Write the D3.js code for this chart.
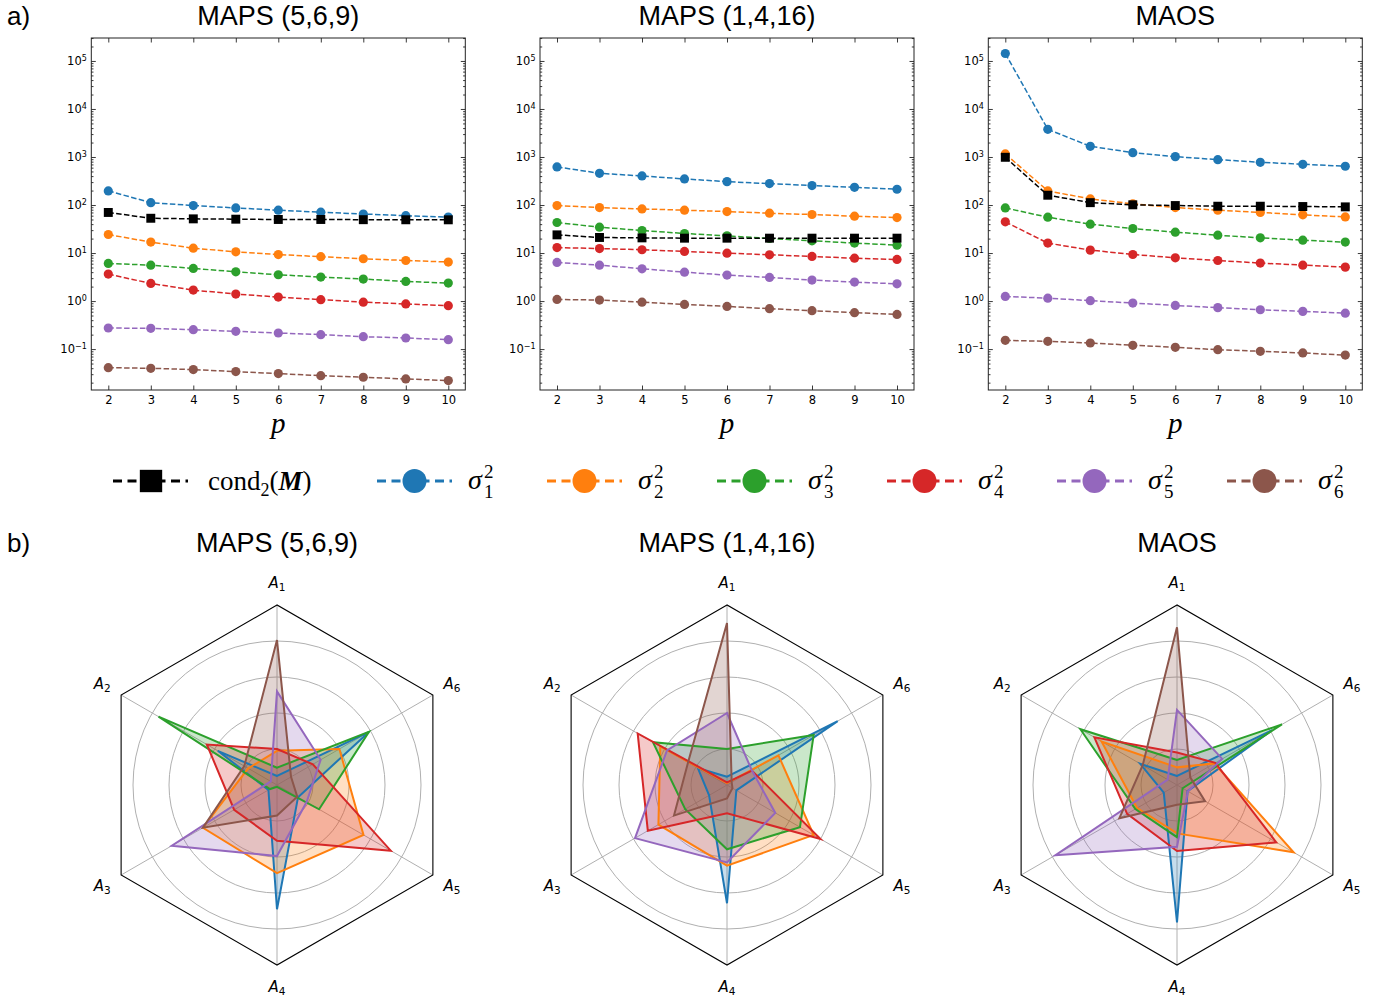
<!DOCTYPE html>
<html>
<head>
<meta charset="utf-8">
<script src="https://cdn.jsdelivr.net/npm/d3@7"></script>
<style>
  body { margin: 0; background: #fff; }
  svg text { font-family: "DejaVu Sans", sans-serif; fill: #000; }
</style>
</head>
<body>
<svg id="fig" width="1384" height="1001"></svg>
<script>
// ---- data -------------------------------------------------------------
const pValues = [2, 3, 4, 5, 6, 7, 8, 9, 10];
const panelTitles = ["MAPS (5,6,9)", "MAPS (1,4,16)", "MAOS"];
const axisNames = ["A1", "A2", "A3", "A4", "A5", "A6"];
const yTickExp = [-1, 0, 1, 2, 3, 4, 5];

// cond2(M) per panel
const cond569 = [70, 53, 51.5, 50.7, 50, 50, 49.5, 49.3, 49.2];
const cond1416 = [23.9, 21.1, 20.7, 20.4, 20.4, 20.4, 20.4, 20.4, 20.4];
const condMaos = [986, 160, 112, 101, 97.5, 94.4, 94.4, 93, 91.5];

// sigma_1^2 .. sigma_6^2 per panel
const sigma569 = [
  [197, 112, 97.5, 87, 78, 71, 65, 60, 56],
  [24.3, 16.9, 12.6, 10.6, 9.3, 8.4, 7.6, 7.0, 6.5],
  [6.07, 5.6, 4.78, 4.07, 3.53, 3.16, 2.87, 2.56, 2.37],
  [3.64, 2.33, 1.69, 1.40, 1.21, 1.07, 0.95, 0.87, 0.80],
  [0.275, 0.270, 0.254, 0.234, 0.216, 0.200, 0.181, 0.170, 0.157],
  [0.0411, 0.0398, 0.0374, 0.0340, 0.0309, 0.0280, 0.0259, 0.0239, 0.0221]
];
const sigma1416 = [
  [621, 458, 403, 349, 307, 279, 254, 234, 213],
  [97.5, 88.5, 83, 78, 73, 67.6, 63.4, 58.5, 54.8],
  [43.2, 34.5, 29.5, 25.5, 22.8, 20.1, 18.0, 16.1, 14.6],
  [13.0, 12.4, 11.7, 10.8, 9.95, 9.2, 8.5, 7.8, 7.35],
  [6.37, 5.6, 4.7, 4.0, 3.47, 3.1, 2.73, 2.48, 2.29],
  [1.08, 1.05, 0.95, 0.85, 0.775, 0.693, 0.63, 0.572, 0.528]
];
const sigmaMaos = [
  [143000, 3770, 1670, 1232, 1018, 881, 776, 705, 641],
  [1156, 197, 134, 106, 88.5, 78, 70, 62.4, 56.6],
  [87, 55.7, 39.9, 32.4, 27.2, 23.5, 20.7, 18.5, 16.9],
  [44.6, 16.1, 11.5, 9.33, 7.96, 7.0, 6.17, 5.6, 5.09],
  [1.25, 1.15, 1.02, 0.91, 0.81, 0.73, 0.66, 0.61, 0.56],
  [0.152, 0.145, 0.134, 0.120, 0.109, 0.097, 0.090, 0.083, 0.075]
];

// radar values on A1..A6 for sigma_1 .. sigma_6 (outer frame = 1)
const radar569 = [
  [0.05, 0.38, 0.055, 0.69, 0.135, 0.59],
  [0.19, 0.185, 0.475, 0.49, 0.555, 0.40],
  [0.096, 0.76, 0.045, 0.01, 0.27, 0.59],
  [0.20, 0.45, 0.275, 0.31, 0.73, 0.23],
  [0.52, 0.04, 0.675, 0.395, 0.19, 0.28],
  [0.805, 0.21, 0.475, 0.17, 0.13, 0.09]
];
const radar1416 = [
  [0.046, 0.187, 0.115, 0.657, 0.06, 0.71],
  [0.01, 0.428, 0.44, 0.448, 0.556, 0.33],
  [0.20, 0.475, 0.268, 0.357, 0.468, 0.556],
  [0.015, 0.573, 0.508, 0.157, 0.60, 0.16],
  [0.40, 0.385, 0.59, 0.43, 0.31, 0.16],
  [0.90, 0.25, 0.34, 0.075, 0.035, 0.03]
];
const radarMaos = [
  [0.05, 0.236, 0.085, 0.763, 0.068, 0.61],
  [0.098, 0.484, 0.256, 0.269, 0.748, 0.24],
  [0.139, 0.62, 0.267, 0.29, 0.036, 0.673],
  [0.18, 0.53, 0.32, 0.367, 0.637, 0.246],
  [0.417, 0.06, 0.78, 0.343, 0.07, 0.29],
  [0.876, 0.22, 0.37, 0.11, 0.18, 0.085]
];

const condSets = [cond569, cond1416, condMaos];
const sigmaSets = [sigma569, sigma1416, sigmaMaos];
const radarSets = [radar569, radar1416, radarMaos];
const sigmaColors = ["#1f77b4", "#ff7f0e", "#2ca02c", "#d62728", "#9467bd", "#8c564b"];

// ---- layout -----------------------------------------------------------
const svg = d3.select("#fig");
const panelLeft = [91.3, 540, 988.3];
const boxW = 374, boxTop = 38, boxBottom = 390;
const titleFont = "'Liberation Sans', Arial, sans-serif";
const serif = "'Liberation Serif', 'Times New Roman', serif";

svg.append("text").attr("x", 7).attr("y", 25).style("font-family", titleFont)
  .style("font-size", "26px").text("a)");
svg.append("text").attr("x", 7).attr("y", 552).style("font-family", titleFont)
  .style("font-size", "26px").text("b)");

// minor log ticks
const minorTicks = [];
for (let e = -2; e <= 5; e++) for (let m = 2; m <= 9; m++) minorTicks.push(m * Math.pow(10, e));

panelTitles.forEach((title, i) => {
  const x0 = panelLeft[i];
  const x = d3.scaleLinear().domain([1.6, 10.4]).range([x0, x0 + boxW]);
  const y = d3.scaleLog().domain([Math.pow(10, -1.852), Math.pow(10, 5.478)]).range([boxBottom, boxTop]);
  const visMinor = minorTicks.filter(v => v > y.domain()[0] && v < y.domain()[1]);
  const g = svg.append("g");

  g.append("text").attr("x", x0 + boxW / 2).attr("y", 25).attr("text-anchor", "middle")
    .style("font-family", titleFont).style("font-size", "27px").text(title);

  // axes
  const bottom = g.append("g").attr("transform", `translate(0,${boxBottom})`)
    .call(d3.axisBottom(x).tickValues(pValues).tickSizeInner(-4.5).tickSizeOuter(0).tickPadding(5.5));
  bottom.selectAll(".tick text").style("font-size", "11.5px");
  g.append("g").attr("transform", `translate(0,${boxTop})`)
    .call(d3.axisTop(x).tickValues(pValues).tickSizeInner(-4.5).tickSizeOuter(0).tickFormat(""));

  const left = g.append("g").attr("transform", `translate(${x0},0)`)
    .call(d3.axisLeft(y).tickValues(yTickExp.map(e => Math.pow(10, e)))
      .tickSizeInner(-4.5).tickSizeOuter(0).tickPadding(4.5).tickFormat(() => ""));
  left.selectAll(".tick text").each(function (d) {
    const t = d3.select(this).style("font-size", "11.5px");
    const e = Math.round(Math.log10(d));
    t.append("tspan").text("10");
    t.append("tspan").attr("dy", "-0.5em").style("font-size", "8px")
      .text(e < 0 ? "\u2212" + (-e) : String(e));
  });
  g.append("g").attr("transform", `translate(${x0},0)`)
    .call(d3.axisLeft(y).tickValues(visMinor).tickSizeInner(-2.2).tickSizeOuter(0).tickFormat(""));
  g.append("g").attr("transform", `translate(${x0 + boxW},0)`)
    .call(d3.axisRight(y).tickValues(yTickExp.map(e => Math.pow(10, e)))
      .tickSizeInner(-4.5).tickSizeOuter(0).tickFormat(""));
  g.append("g").attr("transform", `translate(${x0 + boxW},0)`)
    .call(d3.axisRight(y).tickValues(visMinor).tickSizeInner(-2.2).tickSizeOuter(0).tickFormat(""));
  g.selectAll(".domain").remove();
  g.selectAll(".tick line").attr("stroke", "#222").attr("stroke-width", 0.9);

  g.append("rect").attr("x", x0).attr("y", boxTop).attr("width", boxW)
    .attr("height", boxBottom - boxTop).attr("fill", "none").attr("stroke", "#222").attr("stroke-width", 1);

  g.append("text").attr("x", x0 + boxW / 2).attr("y", 433).attr("text-anchor", "middle")
    .style("font-family", serif).style("font-style", "italic").style("font-size", "29px").text("p");

  const line = d3.line().x((d, k) => x(pValues[k])).y(d => y(d));

  sigmaSets[i].forEach((vals, s) => {
    g.append("path").datum(vals).attr("d", line).attr("fill", "none")
      .attr("stroke", sigmaColors[s]).attr("stroke-width", 1.5).attr("stroke-dasharray", "5.5,2.4");
    g.selectAll(null).data(vals).join("circle")
      .attr("cx", (d, k) => x(pValues[k])).attr("cy", d => y(d)).attr("r", 4.6)
      .attr("fill", sigmaColors[s]);
  });
  const cond = condSets[i];
  g.append("path").datum(cond).attr("d", line).attr("fill", "none")
    .attr("stroke", "#000").attr("stroke-width", 1.5).attr("stroke-dasharray", "5.5,2.4");
  g.selectAll(null).data(cond).join("path")
    .attr("transform", (d, k) => `translate(${x(pValues[k])},${y(d)})`)
    .attr("d", d3.symbol(d3.symbolSquare, 80)).attr("fill", "#000");
});

// ---- legend -----------------------------------------------------------
const legY = 481;
const legItems = ["cond", "s1", "s2", "s3", "s4", "s5", "s6"];
const legX = d3.scalePoint().domain(legItems.slice(1)).range([377, 1227]);
const legG = svg.append("g");
legItems.forEach((key, j) => {
  const lx = j === 0 ? 113 : legX(key);
  const col = j === 0 ? "#000" : sigmaColors[j - 1];
  legG.append("line").attr("x1", lx).attr("x2", lx + 75).attr("y1", legY).attr("y2", legY)
    .attr("stroke", col).attr("stroke-width", 3).attr("stroke-dasharray", "9,5.5");
  if (j === 0) {
    legG.append("path").attr("transform", `translate(${lx + 38},${legY})`)
      .attr("d", d3.symbol(d3.symbolSquare, 500)).attr("fill", "#000");
    const t = legG.append("text").attr("x", lx + 95).attr("y", legY + 9)
      .style("font-family", serif).style("font-size", "27px");
    t.append("tspan").text("cond");
    t.append("tspan").attr("dy", 6).style("font-size", "18px").text("2");
    t.append("tspan").attr("dy", -6).text("(");
    t.append("tspan").style("font-weight", "bold").style("font-style", "italic").text("M");
    t.append("tspan").text(")");
  } else {
    legG.append("circle").attr("cx", lx + 37.5).attr("cy", legY).attr("r", 12).attr("fill", col);
    const tx = lx + 91;
    legG.append("text").attr("x", tx).attr("y", legY + 8).style("font-family", serif)
      .style("font-style", "italic").style("font-size", "28px").text("\u03c3");
    legG.append("text").attr("x", tx + 16).attr("y", legY - 3).style("font-family", serif)
      .style("font-size", "19px").text("2");
    legG.append("text").attr("x", tx + 16).attr("y", legY + 17).style("font-family", serif)
      .style("font-size", "19px").text(String(j));
  }
});

// ---- radar charts -----------------------------------------------------
const radarCx = [277, 727, 1177], radarCy = 785, R = 180;
const r = d3.scaleLinear().domain([0, 1]).range([0, R]);
const angle = k => -k * Math.PI / 3;           // A1 at top, counter-clockwise
const radial = d3.lineRadial().angle((d, k) => angle(k)).radius(d => r(d)).curve(d3.curveLinearClosed);
const gridLevels = [0.2, 0.4, 0.6, 0.8];

panelTitles.forEach((title, i) => {
  const g = svg.append("g").attr("transform", `translate(${radarCx[i]},${radarCy})`);
  svg.append("text").attr("x", radarCx[i]).attr("y", 552).attr("text-anchor", "middle")
    .style("font-family", titleFont).style("font-size", "27px").text(title);

  g.selectAll(null).data(gridLevels).join("circle").attr("r", d => r(d))
    .attr("fill", "none").attr("stroke", "#b0b0b0").attr("stroke-width", 1);
  g.selectAll(null).data(axisNames).join("line")
    .attr("x1", 0).attr("y1", 0)
    .attr("x2", (d, k) => r(1) * Math.sin(angle(k)))
    .attr("y2", (d, k) => -r(1) * Math.cos(angle(k)))
    .attr("stroke", "#b0b0b0").attr("stroke-width", 1);
  g.append("path").attr("d", radial(axisNames.map(() => 1)))
    .attr("fill", "none").attr("stroke", "#000").attr("stroke-width", 1.1);

  // fills first, then outlines on top
  radarSets[i].forEach((vals, s) => {
    g.append("path").attr("d", radial(vals)).attr("fill", sigmaColors[s]).attr("fill-opacity", 0.25)
      .attr("stroke", "none");
  });
  radarSets[i].forEach((vals, s) => {
    g.append("path").attr("d", radial(vals)).attr("fill", "none")
      .attr("stroke", sigmaColors[s]).attr("stroke-width", 2).attr("stroke-linejoin", "miter");
  });

  axisNames.forEach((name, k) => {
    const t = g.append("text")
      .attr("x", r(1.122) * Math.sin(angle(k)))
      .attr("y", -r(1.122) * Math.cos(angle(k)) + 5)
      .attr("text-anchor", "middle").style("font-size", "15px");
    t.append("tspan").style("font-style", "italic").text(name[0]);
    t.append("tspan").attr("dy", 3).style("font-size", "10.5px").text(name.slice(1));
  });
});
</script>
</body>
</html>
